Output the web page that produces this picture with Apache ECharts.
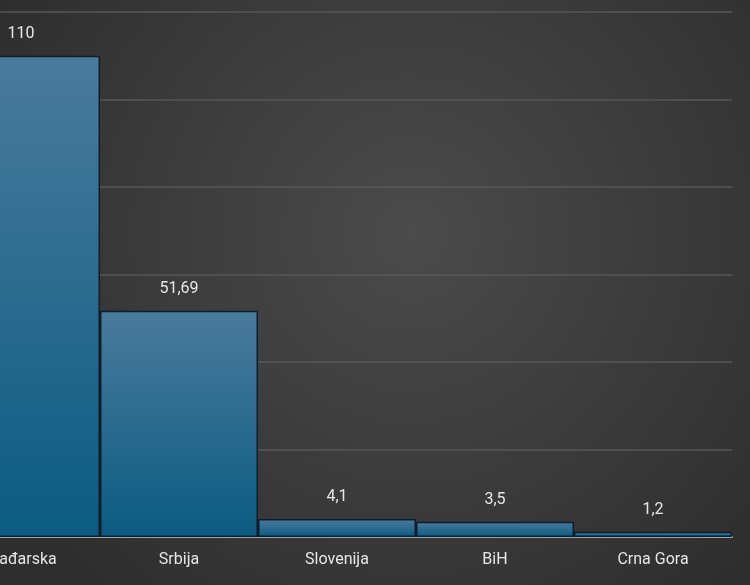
<!DOCTYPE html><html><head><meta charset="utf-8"><script src="https://cdn.jsdelivr.net/npm/echarts@6/dist/echarts.min.js"></script>
<style>html,body{margin:0;padding:0;background:#3a3a3a;overflow:hidden;width:750px;height:585px;position:relative}#c{position:absolute;left:-58px;top:0;width:808px;height:585px}</style></head><body><div id="c"></div><script>
const categories=['Mađarska','Srbija','Slovenija','BiH','Crna Gora'];
const values=[110,51.69,4.1,3.5,1.2];
const labels=['110','51,69','4,1','3,5','1,2'];
const chart=echarts.init(document.getElementById('c'));
chart.setOption({
backgroundColor:{type:'radial',x:0.58,y:0.4,r:0.8,colorStops:[{offset:0,color:'#4b4b4b'},{offset:1,color:'#2e2e2e'}]},
grid:{left:0,right:18,top:12,bottom:48},
xAxis:{type:'category',data:categories,axisTick:{show:false},axisLine:{lineStyle:{color:'#8fa9bb',width:2}},
axisLabel:{color:'#e6e6e6',fontSize:16,fontFamily:'Roboto',margin:15}},
yAxis:{type:'value',min:0,max:120,interval:20,axisLabel:{show:false},axisLine:{show:false},axisTick:{show:false},
splitLine:{lineStyle:{color:'#575757',width:1.5}}},
series:[{type:'bar',barCategoryGap:0,data:values,
itemStyle:{color:{type:'linear',x:0,y:0,x2:0,y2:1,colorStops:[{offset:0,color:'#4a7b9c'},{offset:1,color:'#0b5b82'}]},borderColor:'#0f1e2a',borderWidth:1.5},
label:{show:true,position:'top',distance:14,color:'#e6e6e6',fontSize:16,fontFamily:'Roboto',formatter:p=>labels[p.dataIndex]}}]
});
</script></body></html>
